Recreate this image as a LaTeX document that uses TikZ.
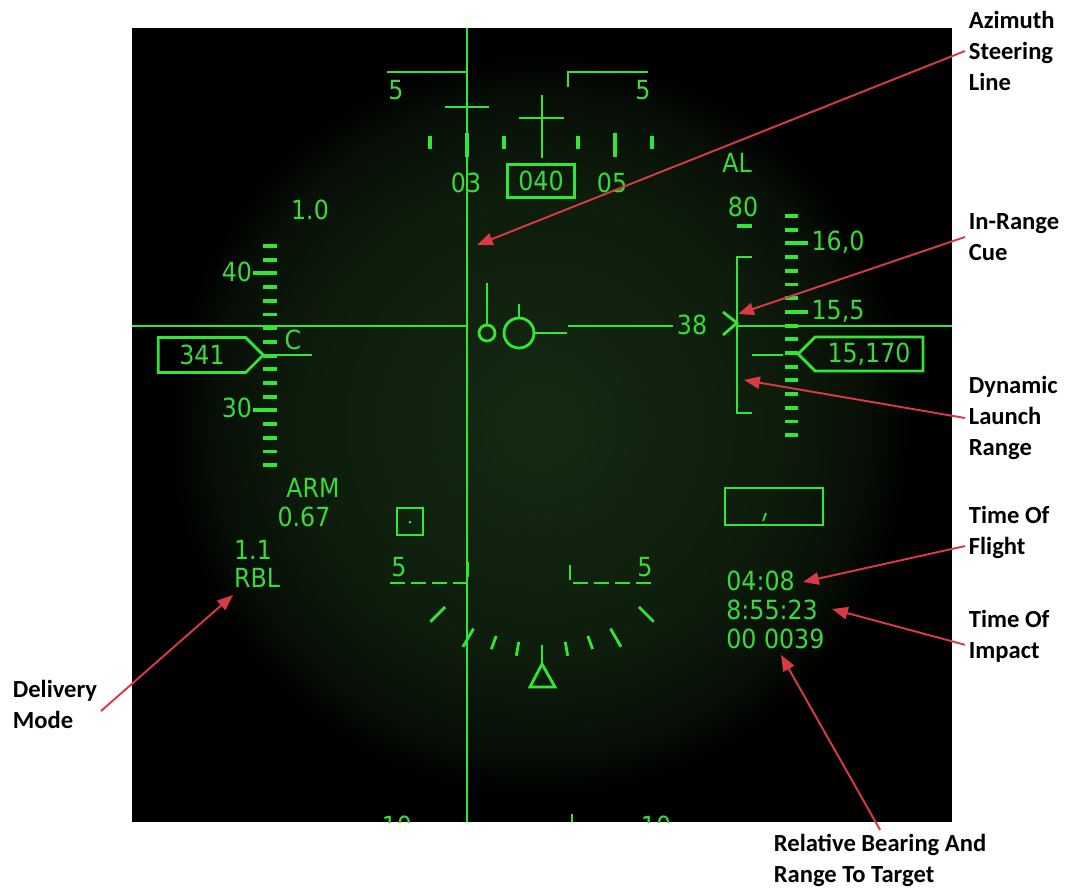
\documentclass[tikz,border=0pt]{standalone}
\usepackage{fontspec}
\newfontfamily\hudfont{DejaVu Sans}[FakeStretch=0.9]
\newfontfamily\lblfont{Carlito}
\usetikzlibrary{arrows.meta, shapes.symbols}
\definecolor{hudGreen}{HTML}{33E633}
\definecolor{hudText}{HTML}{3CD83C}
\definecolor{glowGreen}{HTML}{152A13}
\definecolor{glowEdge}{HTML}{0D1C0B}
\definecolor{calloutRed}{HTML}{D83A46}
\pgfdeclareradialshading{hudglow}{\pgfpoint{0bp}{0bp}}{color(0bp)=(glowGreen);
  color(16bp)=(glowEdge); color(22bp)=(glowEdge!55!black); color(25bp)=(black); color(50bp)=(black)}

\begin{document}
\begin{tikzpicture}[x=0.02cm, y=-0.02cm,
  hudline/.style={draw=hudGreen, line width=1.6pt},
  hudtick/.style={draw=hudGreen, line width=2.2pt},
  hudtxt/.style={text=hudText, font=\hudfont\fontsize{15}{16}\selectfont, inner sep=0pt},
  hudbox/.style={hudtxt, draw=hudGreen, line width=1.6pt, inner sep=2pt},
  callout/.style={font=\lblfont\bfseries\fontsize{14}{17.6}\selectfont, align=left,
                  anchor=west, inner sep=2pt},
  redarrow/.style={-{Triangle[length=9pt, width=7pt]}, line width=1.1pt, draw=calloutRed}
]
\useasboundingbox (0,0) rectangle (1071,890);
\fill[white] (0,0) rectangle (1071,890);
\fill[black] (132,28) rectangle (952,822);
\begin{scope}
\clip (132,28) rectangle (952,822);
\shade[shading=hudglow] (540,425) circle [radius=7.4cm];
\draw[hudline] (467,28) -- (467,822);
\draw[hudline] (132,326) -- (467,326);
\draw[hudline] (568,326) -- (673,326);
\draw[hudline] (737,326) -- (952,326);
\draw[hudline] (487,333) circle [radius=0.16cm];
\draw[hudline] (519,333) circle [radius=0.3cm];
\draw[hudline] (534,333) -- (567,333);
\draw[hudline] (487,325) -- (487,283);
\draw[hudline] (519,318) -- (519,304);
\draw[hudline] (387,72) -- (467,72);
\draw[hudline] (568,87) -- (568,72) -- (648,72);
\draw[hudline] (445,107) -- (489,107);
\draw[hudline] (519,118) -- (564,118);
\draw[hudline] (542,95) -- (542,158);
\foreach \x in {430,504,578,652}
  \draw[hudtick] (\x,136) -- (\x,149);
\foreach \x in {467,615}
  \draw[hudtick] (\x,133) -- (\x,157);
\node[hudtxt] (hdgfiveL) at (396,90) {5};
\node[hudtxt] (hdgfiveR) at (643,90) {5};
\node[hudtxt] (hdgthree) at (466,183) {03};
\node[hudtxt] (hdgfive) at (612,183) {05};
\node[hudbox, minimum width=1.34cm, minimum height=0.66cm, inner sep=0pt] (hdgbox) at (541,181) {040};
\foreach \k in {0,...,16}
  \draw[hudtick] (263,{246+13.7*\k}) -- (277,{246+13.7*\k});
\draw[hudtick] (253,273.4) -- (263,273.4);
\draw[hudtick] (253,410.4) -- (263,410.4);
\draw[hudline] (277,355) -- (312,355);
\node[hudtxt] (gload) at (310,210) {1.0};
\node[hudtxt] (spdforty) at (237,272) {40};
\node[hudtxt] (spdthirty) at (237,408) {30};
\node[hudtxt] (cmode) at (293,340) {C};
\node[hudbox, signal, signal to=east, minimum width=2.1cm, minimum height=0.7cm] (spdbox) at (202,355) {341};
\foreach \k in {0,...,16}
  \draw[hudtick] (785,{216+13.7*\k}) -- (798,{216+13.7*\k});
\draw[hudtick] (798,243.4) -- (808,243.4);
\draw[hudtick] (798,311.9) -- (808,311.9);
\draw[hudline] (752,355) -- (783,355);
\draw[hudtick] (737,226) -- (752,226);
\draw[hudline] (752,257) -- (737,257) -- (737,413) -- (752,413);
\draw[hudline] (723,312) -- (737,323) -- (723,335);
\node[hudtxt] (altlbl) at (737,163) {AL};
\node[hudtxt] (aoa) at (743,207) {80};
\node[hudtxt] (altsixteen) at (838,242) {16,0};
\node[hudtxt] (altfifteen) at (838,311) {15,5};
\node[hudtxt] (rng) at (692,325) {38};
\node[hudbox, signal, signal to=west, minimum width=2.5cm, minimum height=0.68cm] (altbox) at (869,354) {15,170};
\node[hudtxt] (arm) at (313,488) {ARM};
\node[hudtxt] (mach) at (304,517) {0.67};
\node[hudtxt] (gmax) at (253,550) {1.1};
\node[hudtxt] (dmode) at (257,578) {RBL};
\draw[hudline] (397,508) rectangle (423,535);
\fill[hudGreen] (410,522) circle [radius=0.03cm];
\draw[hudline, dash pattern=on 8.5pt off 3.4pt] (390,583) -- (468,583) -- (468,562);
\draw[hudline, dash pattern=on 8.5pt off 3.4pt] (570,565) -- (570,583) -- (652,583);
\node[hudtxt] (bankL) at (399,567) {5};
\node[hudtxt] (bankR) at (645,567) {5};
\foreach \a/\ri/\ro in {80/134/148, 100/134/148, 70/134/148, 110/134/148,
                        60/137/158, 120/137/158, 45/137/158, 135/137/158, 90/135/153}
  \draw[hudline] ({542+\ri*cos(\a)},{510+\ri*sin(\a)}) -- ({542+\ro*cos(\a)},{510+\ro*sin(\a)});
\draw[hudline] (542,664) -- (530,687) -- (555,687) -- cycle;
\draw[hudline] (725,488) rectangle (823,525);
\draw[hudline, line width=1pt] (763,521) -- (766,513);
\node[hudtxt, anchor=west] (tof) at (726,581) {04:08};
\node[hudtxt, anchor=west] (toi) at (726,610) {8:55:23};
\node[hudtxt, anchor=west] (brg) at (726,639) {00 0039};
\draw[hudline] (572,814) -- (572,822);
\node[hudtxt] (pitchL) at (397,826) {10};
\node[hudtxt] (pitchR) at (656,826) {10};
\end{scope}
\coordinate (azhead) at (477,245);
\coordinate (irhead) at (738,314);
\coordinate (dlhead) at (744,380);
\coordinate (tofhead) at (803,582);
\coordinate (toihead) at (832,609);
\coordinate (rbhead) at (781,655);
\coordinate (dmhead) at (233,595);
\node[callout] (azlab) at (965,51) {Azimuth\\Steering\\Line};
\node[callout] (irlab) at (965,237) {In-Range\\Cue};
\node[callout] (dllab) at (965,418) {Dynamic\\Launch\\Range};
\node[callout] (toflab) at (965,532) {Time Of\\Flight};
\node[callout] (toilab) at (965,636) {Time Of\\Impact};
\node[callout] (dmlab) at (9,704) {Delivery\\Mode};
\node[callout] (rblab) at (770,860) {Relative Bearing And\\Range To Target};
\draw[redarrow] (azlab.west) -- (azhead);
\draw[redarrow] (irlab.west) -- (irhead);
\draw[redarrow] (dllab.west) -- (dlhead);
\draw[redarrow] ([yshift=-8pt]toflab.west) -- (tofhead);
\draw[redarrow] ([yshift=-5pt]toilab.west) -- (toihead);
\draw[redarrow] ([yshift=-4pt]dmlab.east) -- (dmhead);
\draw[redarrow] (rblab.north) -- (rbhead);
\end{tikzpicture}
\end{document}
